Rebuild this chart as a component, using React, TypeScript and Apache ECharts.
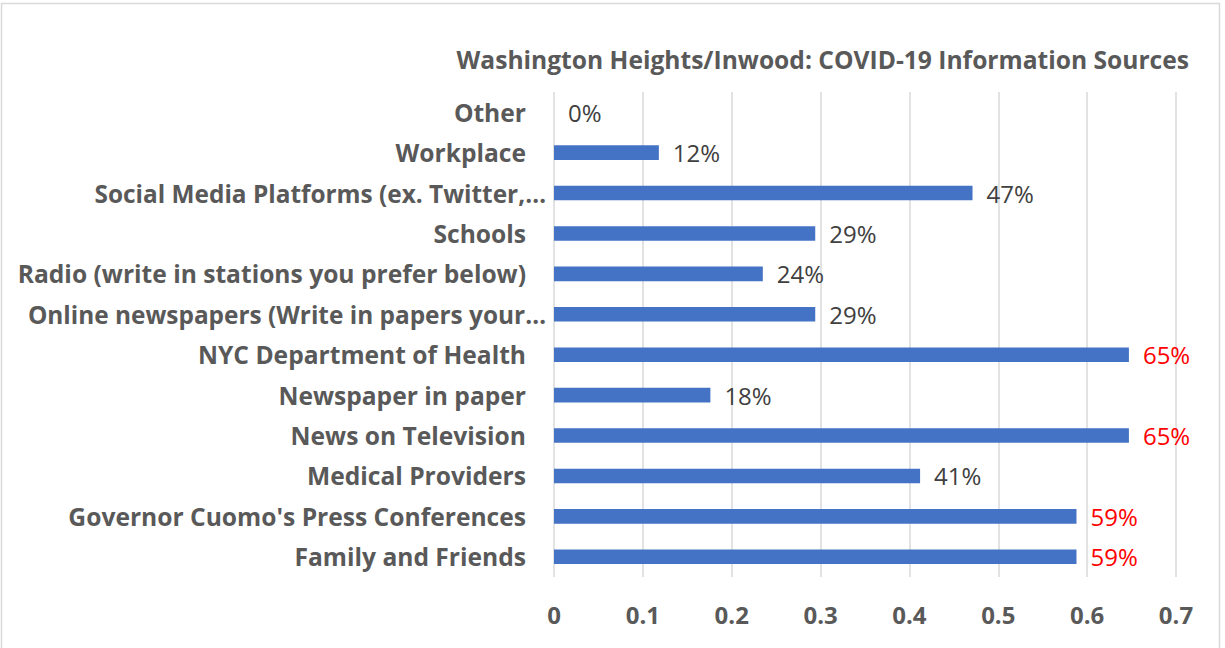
import React, { useEffect, useRef } from "react";
import * as echarts from "echarts";

const categories = [
  "Family and Friends",
  "Governor Cuomo's Press Conferences",
  "Medical Providers",
  "News on Television",
  "Newspaper in paper",
  "NYC Department of Health",
  "Online newspapers (Write in papers your…",
  "Radio (write in stations you prefer below)",
  "Schools",
  "Social Media Platforms (ex. Twitter,…",
  "Workplace",
  "Other",
];
const values = [0.588, 0.588, 0.412, 0.647, 0.176, 0.647, 0.294, 0.235, 0.294, 0.471, 0.118, 0];
const xTicks = [0, 0.1, 0.2, 0.3, 0.4, 0.5, 0.6, 0.7];
const titleText = "Washington Heights/Inwood: COVID-19 Information Sources";
const highlightThreshold = 0.5;

const FONT = "'Open Sans', sans-serif";

export default function App() {
  const ref = useRef<HTMLDivElement>(null);
  useEffect(() => {
    document.body.style.margin = "0";
    const chart = echarts.init(ref.current!, null, { renderer: "svg" });
    chart.setOption({
      animation: false,
      backgroundColor: "#ffffff",
      title: {
        text: titleText,
        right: 31,
        top: 42,
        textStyle: { fontFamily: FONT, fontWeight: "bold", fontSize: 24.6, color: "#595959" },
      },
      graphic: [
        {
          type: "rect",
          shape: { x: 1.5, y: 3.5, width: 1218, height: 660 },
          style: { fill: "none", stroke: "#d9d9d9", lineWidth: 1.5 },
          silent: true,
        },
      ],
      grid: { left: 554, right: 49, top: 92, bottom: 71, containLabel: false },
      xAxis: {
        type: "value",
        min: xTicks[0],
        max: xTicks[xTicks.length - 1],
        interval: 0.1,
        axisLine: { show: false },
        axisTick: { show: false },
        splitLine: { show: true, lineStyle: { color: "#d9d9d9", width: 1.5 } },
        axisLabel: {
          fontFamily: FONT,
          fontWeight: "bold",
          fontSize: 24,
          color: "#595959",
          margin: 25,
          formatter: (v: number) => (v === 0 ? "0" : String(Math.round(v * 10) / 10)),
        },
      },
      yAxis: {
        type: "category",
        data: categories,
        axisLine: { show: false },
        axisTick: { show: false },
        axisLabel: {
          fontFamily: FONT,
          fontWeight: "bold",
          fontSize: 24.6,
          color: "#595959",
          margin: 8,
          formatter: (v: string) => (v.endsWith("…") ? `{t|${v}}` : `{n|${v}}`),
          rich: {
            t: { fontFamily: FONT, fontWeight: "bold", fontSize: 24.4, color: "#595959" },
            n: { fontFamily: FONT, fontWeight: "bold", fontSize: 24.6, color: "#595959", padding: [0, 20, 0, 0] },
          },
        },
      },
      series: [
        {
          type: "bar",
          data: values.map((v) => ({
            value: v,
            label: { color: v > highlightThreshold ? "#ff0000" : "#404040" },
          })),
          barWidth: "36%",
          itemStyle: { color: "#4472c4" },
          label: {
            show: true,
            position: "right",
            distance: 14,
            fontFamily: FONT,
            fontSize: 24,
            formatter: (p: any) => `${Math.round(p.value * 100)}%`,
          },
        },
      ],
    });
    return () => chart.dispose();
  }, []);
  return <div ref={ref} style={{ width: 1225, height: 648 }} />;
}
